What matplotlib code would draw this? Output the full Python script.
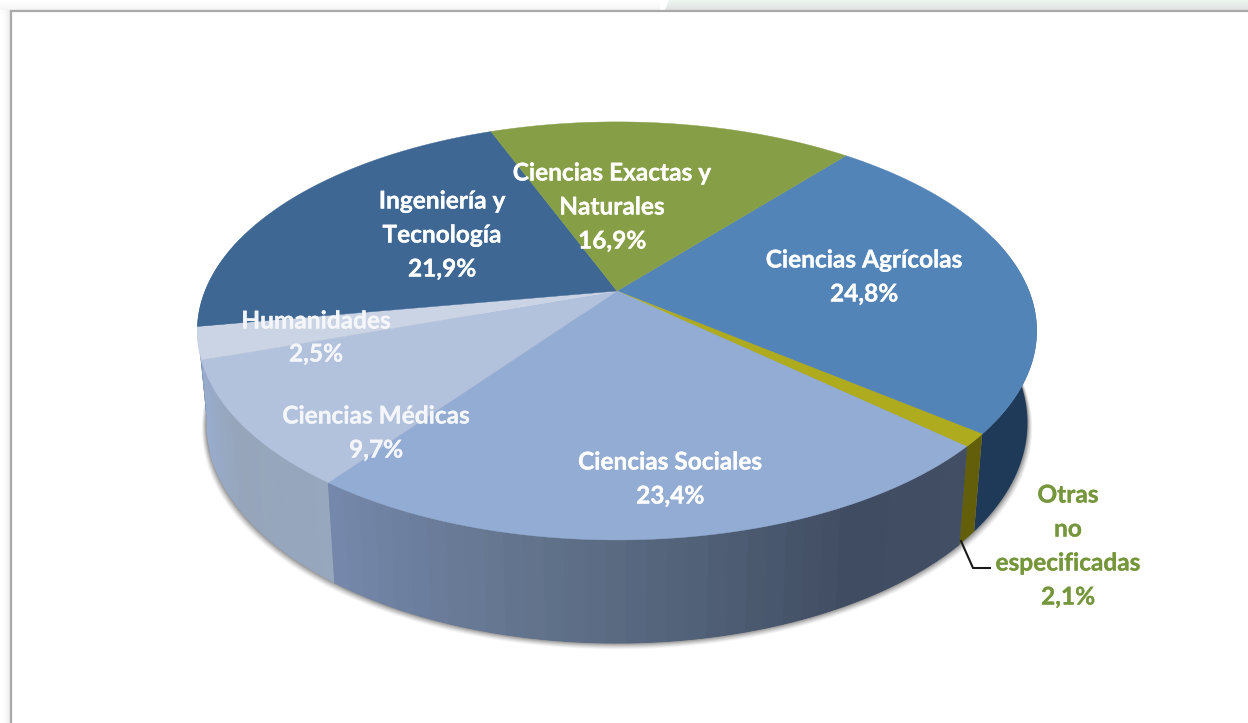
import numpy as np
import matplotlib
matplotlib.use("Agg")
import matplotlib.pyplot as plt
from matplotlib.patches import Polygon, Rectangle
import matplotlib.patheffects as pe

# Slices in drawing order (clockwise on screen)
categories = ["Ciencias Agrícolas", "Otras no especificadas", "Ciencias Sociales",
              "Ciencias Médicas", "Humanidades", "Ingeniería y Tecnología",
              "Ciencias Exactas y Naturales"]
printed_pct = [24.8, 2.1, 23.4, 9.7, 2.5, 21.9, 16.9]
# Angular share as drawn: the "Otras" wedge is visibly thinner than its printed 2,1 %
drawn_share = [24.8, 1.0, 23.4, 9.7, 2.5, 21.9, 16.9]

top_colors = ["#5384b8", "#aeab1e", "#93acd3", "#b2c1dc", "#cbd4e4", "#3e6794", "#869e46"]

CX, CY, KX, MY, P = 617.0, 291.0, 412.0, 201.4, 0.191
START = -50.4

def project(theta_deg, r=1.0):
    t = np.radians(theta_deg)
    u, v = r * np.cos(t), r * np.sin(t)
    w = 1 - P * v
    return CX + KX * u / w, CY + MY * v / w

def lower(x, y):
    return CX + 0.978 * (x - CX), 381 + 1.0526 * (y - CY)

fig = plt.figure(figsize=(12.48, 7.23), dpi=100)
ax = fig.add_axes([0, 0, 1, 1])
ax.set_xlim(0, 1248)
ax.set_ylim(723, 0)
ax.axis("off")

# page surround
for i in range(10):
    g = 1 - 0.075 * (i / 9) ** 2
    ax.add_patch(Rectangle((i, 0), 1.2, 723, fc=(g, g, g), ec="none", zorder=0))
    g2 = 1 - 0.04 * (i / 9)
    ax.add_patch(Rectangle((0, i), 660, 1.2, fc=(g2, g2, g2), ec="none", zorder=0.1))
    ax.add_patch(Polygon([(669 - i * 0.4, i), (1248, i), (1248, i + 1.2), (668.5 - i * 0.4, i + 1.2)],
                         fc=(0.925 - 0.005 * i, 0.96 - 0.008 * i, 0.935 - 0.006 * i),
                         ec="none", zorder=0.1))
ax.add_patch(Rectangle((11.5, 11.5), 1240, 720, fc="white", ec="none", zorder=0.2))
ax.plot([11, 11, 1248], [723, 10.5, 10.5], color="#a9a9a9", lw=1.6, zorder=0.3, solid_joinstyle="miter")

angles = START + np.cumsum([0] + drawn_share) / sum(drawn_share) * 360

# soft shadow of the lower rim
th = np.linspace(-20, 200, 240)
bx, by = lower(*project(th))
for off, a in [(7, 0.05), (6, 0.07), (5, 0.09), (4, 0.11), (3, 0.14), (2, 0.18), (1, 0.22)]:
    ax.add_patch(Polygon(np.c_[bx + off * 0.7 * np.cos(np.radians(th)), by + off * 0.9],
                         fc="#555555", ec="none", alpha=a, zorder=1))

# wall shading anchors (angle on the rim -> rgb)
soc_a = [42, 62, 80, 100, 126]
soc_c = np.array([(66, 78, 100), (64, 76, 98), (80, 96, 118), (98, 115, 140), (118, 137, 172)])
med_a = [126, 145, 161]
med_c = np.array([(150, 167, 190), (150, 165, 186), (152, 172, 206)])

def wall_color(i, t):
    if i == 0:
        return np.array([30, 58, 88]) / 255
    if i == 1:
        return np.array([98, 94, 10]) / 255
    if i == 2:
        return np.array([np.interp(t, soc_a, soc_c[:, k]) for k in range(3)]) / 255
    if i == 3:
        return np.array([np.interp(t, med_a, med_c[:, k]) for k in range(3)]) / 255
    if i == 4:
        return np.array([158, 176, 208]) / 255
    return np.array([62, 90, 125]) / 255

def draw_wall(i, a0, a1):
    a0, a1 = max(a0, -16), min(a1, 196)
    if a1 <= a0:
        return
    tt = np.linspace(a0, a1, 60)
    x, y = project(tt)
    xb, yb = lower(x, y)
    base = wall_color(i, (a0 + a1) / 2)
    z0 = 2 + 0.001 * i
    ax.add_patch(Polygon(np.r_[np.c_[x, y], np.c_[xb, yb][::-1]], fc=base, ec="none", zorder=z0))
    if i not in (2, 3):
        return
    n = max(1, int(np.ceil((a1 - a0) / 2.4)))
    edges = np.linspace(a0, a1, n + 1)
    for k in range(n):
        t = np.linspace(edges[k], edges[k + 1], 5)
        x, y = project(t)
        xb, yb = lower(x, y)
        col = wall_color(i, t.mean())
        ax.add_patch(Polygon(np.r_[np.c_[x, y], np.c_[xb, yb][::-1]], fc=col, ec=col, lw=0.6,
                             zorder=3 + 0.01 * k))

for i in range(len(drawn_share)):
    draw_wall(i, angles[i], angles[i + 1])

# top face
for i, c in enumerate(top_colors):
    t = np.linspace(angles[i], angles[i + 1], max(3, int(angles[i + 1] - angles[i]) * 2))
    x, y = project(t)
    ax.add_patch(Polygon(np.r_[[[CX, CY]], np.c_[x, y]], fc=c, ec=c, lw=0.3, zorder=4, joinstyle="round"))

# labels
FONT = "Lato"
WHITE = "#ffffff"
GREEN = "#76963c"
def pct(i):
    return f"{printed_pct[i]:.1f}%".replace(".", ",")

text_rows = [
    ("Ciencias Agrícolas", 864, 260, WHITE), (pct(0), 864, 294, WHITE),
    ("Ciencias Sociales", 670, 462, WHITE), (pct(2), 670, 496, WHITE),
    ("Ciencias Médicas", 376, 416, "#f4f6fa"), (pct(3), 376, 450, "#f4f6fa"),
    ("Humanidades", 316, 321, "#f4f6fa"), (pct(4), 316, 354, "#f4f6fa"),
    ("Ingeniería y", 442, 201, WHITE), ("Tecnología", 442, 235, WHITE), (pct(5), 442, 269, WHITE),
    ("Ciencias Exactas y", 612, 173, WHITE), ("Naturales", 612, 207, WHITE), (pct(6), 612, 241, WHITE),
    ("Otras", 1068, 495, GREEN), ("no", 1068, 529, GREEN), ("especificadas", 1068, 563, GREEN),
    (pct(1), 1068, 597, GREEN),
]
for s, x, y, c in text_rows:
    ax.text(x, y, s, ha="center", va="center", color=c, fontsize=17.6, fontweight="bold",
            family=FONT, zorder=6,
            path_effects=[pe.withStroke(linewidth=0.2, foreground=c)])

# leader
ax.plot([961, 973, 990], [541, 568, 568], color="#1a1a1a", lw=1.5, zorder=5, solid_joinstyle="round")

fig.savefig("out.png", dpi=100)
